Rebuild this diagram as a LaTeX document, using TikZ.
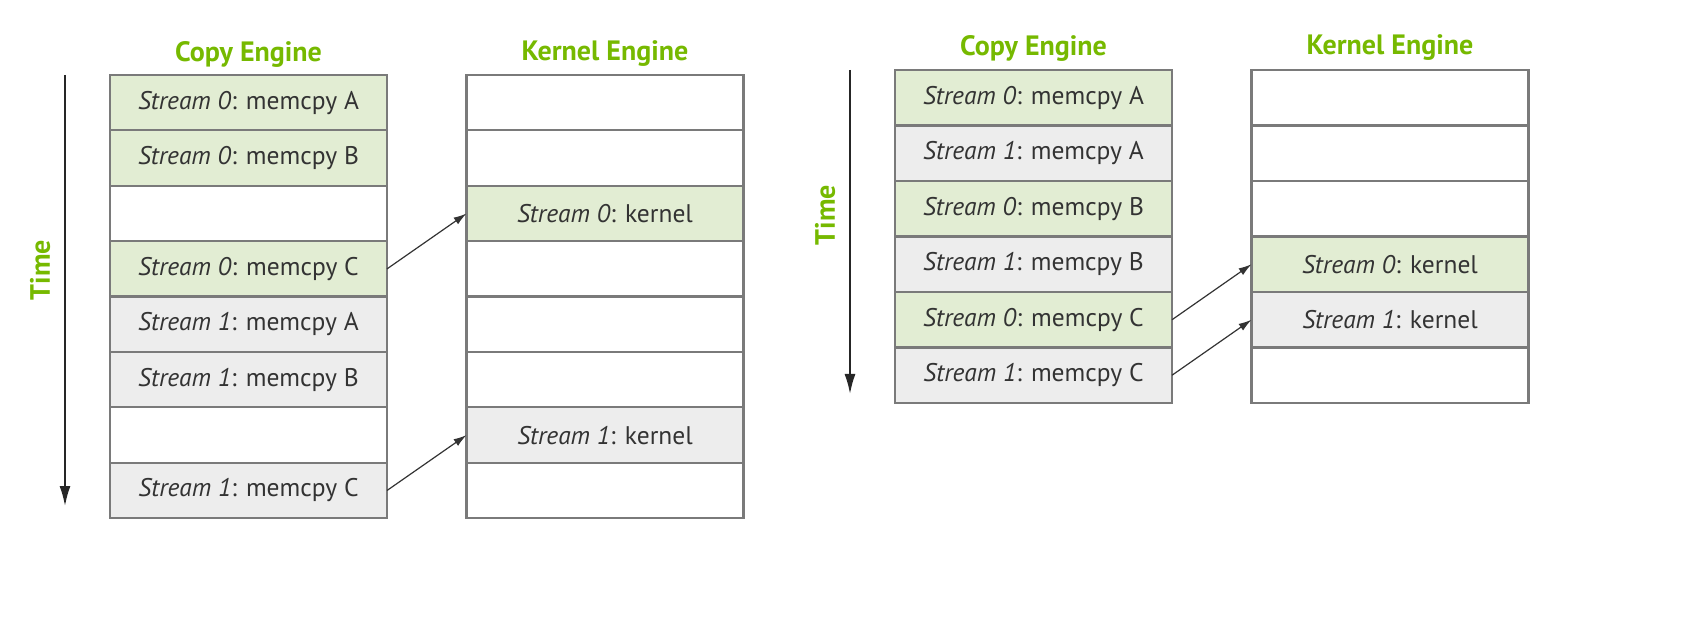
\documentclass[tikz,border=0pt]{standalone}
\usepackage{fontspec}
\setmainfont{PT Sans}
\usetikzlibrary{arrows.meta}
\definecolor{nvgreen}{HTML}{76B900}
\definecolor{cellgreen}{HTML}{E2EDD3}
\definecolor{cellgray}{HTML}{EDEDED}
\definecolor{cellline}{HTML}{7A7A7A}
\definecolor{txt}{HTML}{333333}
\begin{document}
\begin{tikzpicture}[x=1pt,y=-1pt,
  cell/.style={draw=cellline, line width=2.2pt, minimum width=277pt, minimum height=55.4pt,
    inner sep=0pt, outer sep=0pt, font=\fontsize{25.5}{30}\selectfont, text=txt},
  gcell/.style={cell, fill=cellgreen},
  scell/.style={cell, fill=cellgray},
  ecell/.style={cell, fill=white},
  head/.style={font=\bfseries\fontsize{28}{32}\selectfont, text=nvgreen},
  timearrow/.style={draw=black!85, line width=1.8pt, -{Latex[length=20pt,width=11pt]}},
  link/.style={draw=black!80, line width=1.2pt, -{Latex[length=13pt,width=8pt]}}
]
\useasboundingbox (0,0) rectangle (1695,617);

% ---------- left diagram ----------
\node[head] (lch) at (248.5,54) {Copy Engine};
\node[head] (lkh) at (605,54) {Kernel Engine};

\node[gcell] (lc1) at (248.5,102.7) {\textit{Stream 0}: memcpy A};
\node[gcell] (lc2) at (248.5,158.1) {\textit{Stream 0}: memcpy B};
\node[ecell] (lc3) at (248.5,213.5) {};
\node[gcell] (lc4) at (248.5,268.9) {\textit{Stream 0}: memcpy C};
\node[scell] (lc5) at (248.5,324.3) {\textit{Stream 1}: memcpy A};
\node[scell] (lc6) at (248.5,379.7) {\textit{Stream 1}: memcpy B};
\node[ecell] (lc7) at (248.5,435.1) {};
\node[scell] (lc8) at (248.5,490.5) {\textit{Stream 1}: memcpy C};

\node[ecell] (lk1) at (605,102.7) {};
\node[ecell] (lk2) at (605,158.1) {};
\node[gcell] (lk3) at (605,213.5) {\textit{Stream 0}: kernel};
\node[ecell] (lk4) at (605,268.9) {};
\node[ecell] (lk5) at (605,324.3) {};
\node[ecell] (lk6) at (605,379.7) {};
\node[scell] (lk7) at (605,435.1) {\textit{Stream 1}: kernel};
\node[ecell] (lk8) at (605,490.5) {};

\coordinate (lts) at (65,75);
\coordinate (lte) at (65,506);
\draw[timearrow] (lts) -- (lte);
\node[head, rotate=90] (ltime) at (40,270) {Time};

\draw[link] (lc4.east) -- (lk3.west);
\draw[link] (lc8.east) -- (lk7.west);

% ---------- right diagram ----------
\node[head] (rch) at (1033.5,48) {Copy Engine};
\node[head] (rkh) at (1390,48) {Kernel Engine};

\node[gcell, minimum height=55.5pt] (rc1) at (1033.5,97.75) {\textit{Stream 0}: memcpy A};
\node[scell, minimum height=55.5pt] (rc2) at (1033.5,153.25) {\textit{Stream 1}: memcpy A};
\node[gcell, minimum height=55.5pt] (rc3) at (1033.5,208.75) {\textit{Stream 0}: memcpy B};
\node[scell, minimum height=55.5pt] (rc4) at (1033.5,264.25) {\textit{Stream 1}: memcpy B};
\node[gcell, minimum height=55.5pt] (rc5) at (1033.5,319.75) {\textit{Stream 0}: memcpy C};
\node[scell, minimum height=55.5pt] (rc6) at (1033.5,375.25) {\textit{Stream 1}: memcpy C};

\node[ecell, minimum height=55.5pt] (rk1) at (1390,97.75) {};
\node[ecell, minimum height=55.5pt] (rk2) at (1390,153.25) {};
\node[ecell, minimum height=55.5pt] (rk3) at (1390,208.75) {};
\node[gcell, minimum height=55.5pt] (rk4) at (1390,264.25) {\textit{Stream 0}: kernel};
\node[scell, minimum height=55.5pt] (rk5) at (1390,319.75) {\textit{Stream 1}: kernel};
\node[ecell, minimum height=55.5pt] (rk6) at (1390,375.25) {};

\coordinate (rts) at (850,70);
\coordinate (rte) at (850,394);
\draw[timearrow] (rts) -- (rte);
\node[head, rotate=90] (rtime) at (825,215) {Time};

\draw[link] (rc5.east) -- (rk4.west);
\draw[link] (rc6.east) -- (rk5.west);
\end{tikzpicture}
\end{document}
